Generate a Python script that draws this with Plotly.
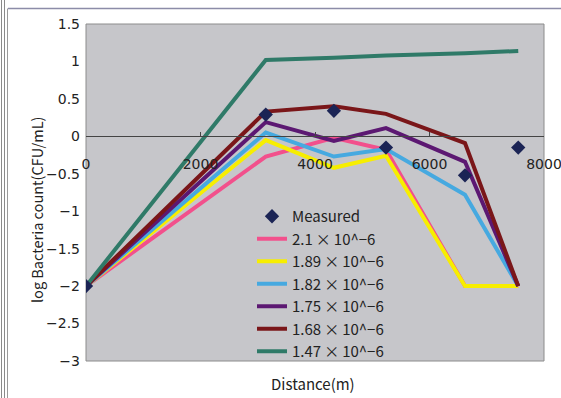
import plotly.graph_objects as go

# Sampling distances along the channel (m)
distance = [0, 3140, 4330, 5240, 6620, 7550]

# Measured log counts
measured = [-2.0, 0.29, 0.34, -0.15, -0.52, -0.15]

# Model curves for each rate constant
series_names = ["2.1\u2009×\u200910^−6", "1.89\u2009×\u200910^−6", "1.82\u2009×\u200910^−6",
                "1.75\u2009×\u200910^−6", "1.68\u2009×\u200910^−6", "1.47\u2009×\u200910^−6"]
series_values = [
    [-2.0, -0.27, -0.02, -0.18, -2.0, -2.0],
    [-2.0, -0.05, -0.42, -0.26, -2.0, -2.0],
    [-2.0, 0.05, -0.27, -0.17, -0.78, -2.0],
    [-2.0, 0.19, -0.06, 0.11, -0.34, -2.0],
    [-2.0, 0.33, 0.40, 0.30, -0.09, -2.0],
    [-2.0, 1.02, 1.05, 1.08, 1.11, 1.14],
]
series_colors = ["#f2508c", "#f7ee00", "#46a9e0", "#5c1872", "#7a1619", "#2f7a68"]

x_ticks = [0, 2000, 4000, 6000, 8000]
y_ticks = [1.5, 1, 0.5, 0, -0.5, -1, -1.5, -2, -2.5, -3]

FONT = "Noto Sans CJK JP"
TICK_FONT = "DejaVu Sans"

fig = go.Figure()

for i, (name, vals, col) in enumerate(zip(series_names, series_values, series_colors)):
    fig.add_trace(go.Scatter(
        x=distance, y=vals, mode="lines", name=name,
        line=dict(color=col, width=4), legendrank=2 + i,
    ))

fig.add_trace(go.Scatter(
    x=distance, y=measured, mode="markers", name="Measured",
    marker=dict(symbol="diamond", size=11, color="#1b2455"),
    legendrank=1,
))

# pixel -> paper helpers for the frame lines around the chart
L, R, T, B, W, H = 86, 17, 24, 37, 561, 398
pw, ph = W - L - R, H - T - B


def px(x):
    return (x - L) / pw


def py(y):
    return (H - B - y) / ph


shapes = [
    # plot area border
    dict(type="rect", xref="paper", yref="paper", x0=0, x1=1, y0=0, y1=1,
         line=dict(color="#8c8c8c", width=1), layer="below"),
    # outer chart frame
    dict(type="line", xref="paper", yref="paper", x0=px(8), x1=px(561), y0=py(8.5), y1=py(8.5),
         line=dict(color="#8c8ca8", width=1.5)),
    dict(type="line", xref="paper", yref="paper", x0=px(7.5), x1=px(7.5), y0=py(8.5), y1=py(398),
         line=dict(color="#9a9a9a", width=1)),
    dict(type="line", xref="paper", yref="paper", x0=px(1.5), x1=px(1.5), y0=py(0), y1=py(398),
         line=dict(color="#8a8a8a", width=1)),
    dict(type="line", xref="paper", yref="paper", x0=px(4.5), x1=px(4.5), y0=py(0), y1=py(398),
         line=dict(color="#8a8a8a", width=1)),
]

fig.update_layout(
    width=W, height=H,
    margin=dict(l=L, r=R, t=T, b=B, autoexpand=False),
    paper_bgcolor="white",
    plot_bgcolor="#c6c6ca",
    font=dict(family=FONT, size=15, color="#222222"),
    showlegend=True,
    legend=dict(
        x=px(252), y=py(200), xanchor="left", yanchor="top",
        bgcolor="rgba(0,0,0,0)", font=dict(size=15, family=FONT),
    ),
    xaxis=dict(
        range=[0, 8000], tickvals=x_ticks, ticktext=[str(v) for v in x_ticks],
        anchor="free", position=3 / 4.5, automargin=False,
        showgrid=False, zeroline=False,
        showline=True, linecolor="#444444", linewidth=1,
        ticks="inside", ticklen=4, tickcolor="#444444",
        ticklabelstandoff=15, ticklabeloverflow="allow",
        tickfont=dict(size=14, family=TICK_FONT),
    ),
    yaxis=dict(
        range=[-3, 1.5], tickvals=y_ticks, ticktext=[f"{v:g}".replace("-", "−") for v in y_ticks],
        showgrid=False, zeroline=False, showline=False, ticks="", automargin=False,
        ticklabelstandoff=5, tickfont=dict(size=14, family=TICK_FONT),
    ),
    shapes=shapes,
    annotations=[
        dict(text="Distance(m)", xref="paper", yref="paper", x=px(313), y=py(383),
             xanchor="center", yanchor="middle", showarrow=False, font=dict(size=15)),
        dict(text="log Bacteria count(CFU/mL)", xref="paper", yref="paper",
             x=px(36.5), y=py(209.5), xanchor="center", yanchor="middle",
             textangle=-90, showarrow=False, font=dict(size=14.5)),
    ],
)

fig.write_html("out.html")
